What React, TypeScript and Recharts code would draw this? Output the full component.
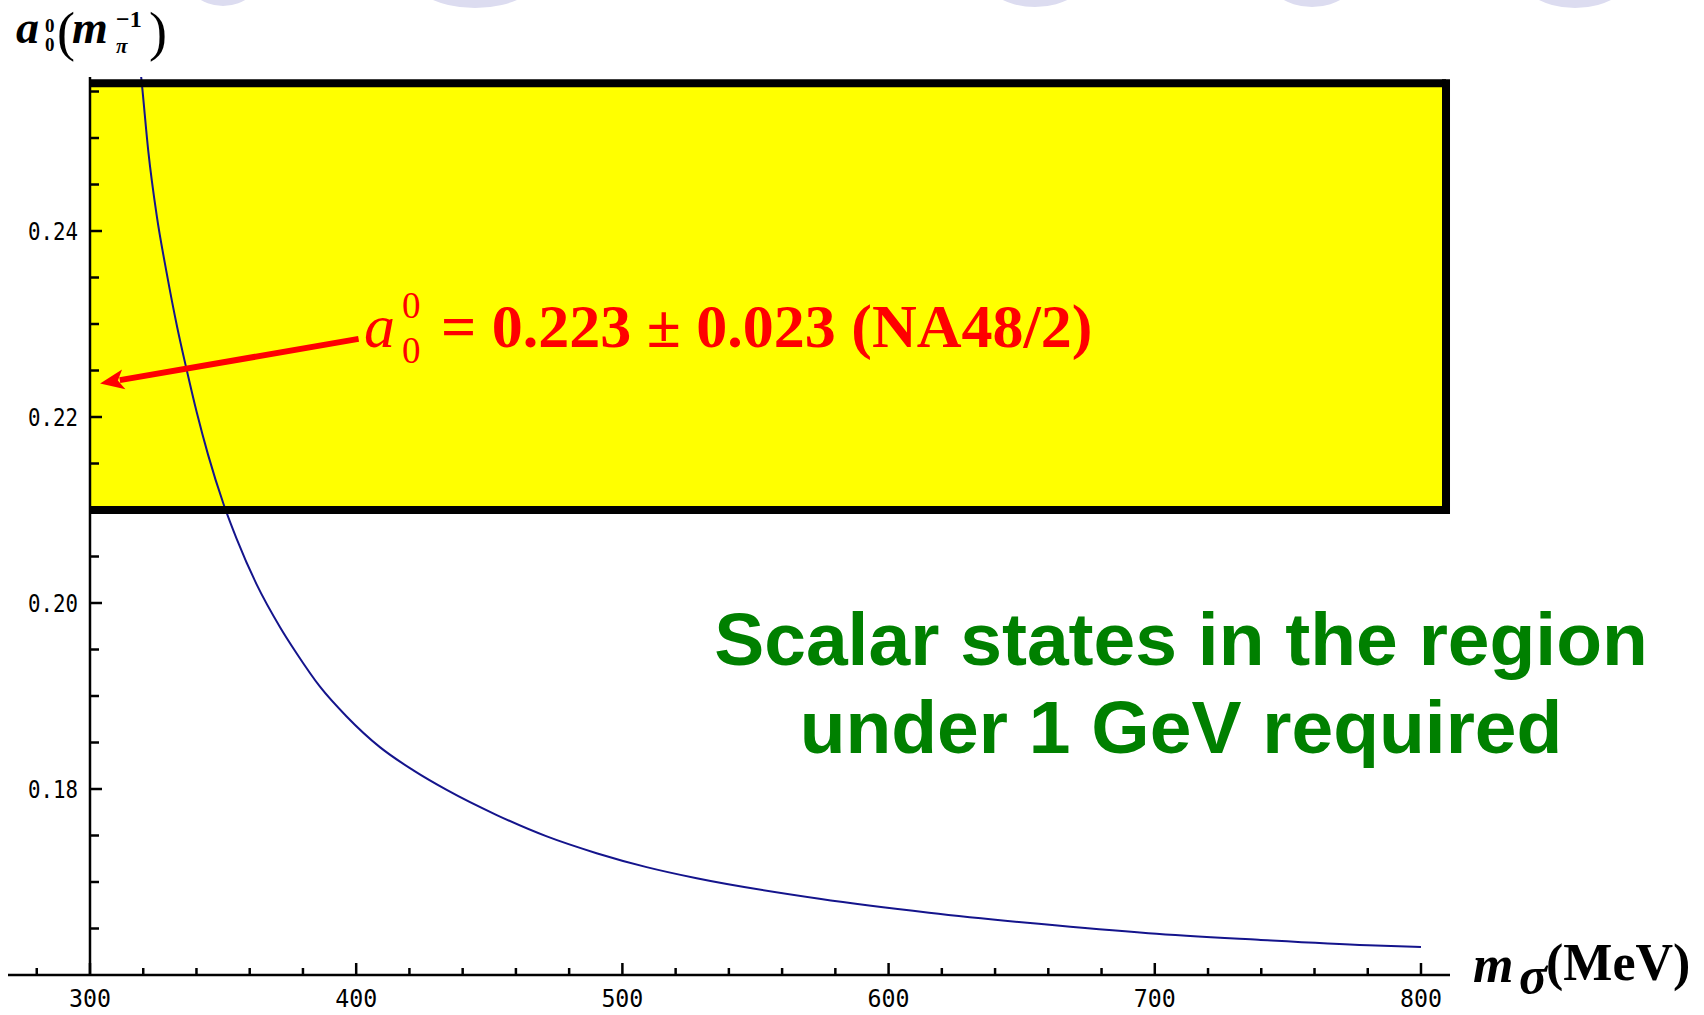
import { ComposedChart, Line, XAxis, YAxis, ReferenceArea, ReferenceLine, ReferenceDot } from 'recharts';

// m_sigma (MeV) and a_0^0 (m_pi^-1)
const sigmaMass = [
  318.9, 319.6, 321.9, 325.1, 328.8, 332.8, 336.3, 340.1, 344.4, 350.1, 355.1, 362.6, 371.4, 377.6, 386.4, 396.4,
  408.9, 421.5, 434.0, 452.8, 471.6, 490.3, 509.1, 527.9, 574.0, 615.2, 656.4, 697.6, 738.9, 780.1, 800.0,
];
const scatteringLength = [
  0.2575, 0.2555, 0.2486, 0.2416, 0.2355, 0.2296, 0.2251, 0.2205, 0.2159, 0.2107, 0.2069, 0.202, 0.1974, 0.1946,
  0.191, 0.1878, 0.1845, 0.182, 0.1799, 0.1772, 0.1749, 0.1731, 0.1716, 0.1704, 0.1682, 0.1667, 0.1655, 0.1645,
  0.1638, 0.1632, 0.163,
];

const xTicks = [280, 300, 320, 340, 360, 380, 400, 420, 440, 460, 480, 500, 520, 540, 560, 580, 600, 620, 640, 660, 680, 700, 720, 740, 760, 780, 800];
const xTickLabels = [300, 400, 500, 600, 700, 800];
const yMajorTicks = [0.18, 0.2, 0.22, 0.24];
const yMajorLabels = ['0.18', '0.20', '0.22', '0.24'];
const yMinorTicks = [0.165, 0.17, 0.175, 0.185, 0.19, 0.195, 0.205, 0.21, 0.215, 0.225, 0.23, 0.235, 0.245, 0.25, 0.255];

// NA48/2 band as drawn on the slide, and the arrow pointing at 0.223
const bandMass = [300, 809.4];
const bandValue = [0.21, 0.2559];
const arrowStart = { m: 400.9, a: 0.2284 };
const arrowEnd = { m: 303.8, a: 0.2236 };

const data = sigmaMass.map((m, i) => ({ m, a: scatteringLength[i] }));

const tickFont = '"DejaVu Sans Mono", monospace';
const serif = '"Liberation Serif", "Times New Roman", serif';

const XTick = ({ x, y, payload }: any) => {
  const major = xTickLabels.includes(payload.value);
  return (
    <g>
      <line x1={x} x2={x} y1={y} y2={y - (major ? 12 : 7)} stroke="#000" strokeWidth={2.5} />
      {major && (
        <text x={x} y={y + 32} textAnchor="middle" fontFamily={tickFont} fontSize={24} textLength={42} lengthAdjust="spacingAndGlyphs" fill="#000">
          {payload.value}
        </text>
      )}
    </g>
  );
};

const yTick = (label?: string) => (props: any) => {
  const { cx, cy } = props;
  return (
    <g>
      <line x1={cx} x2={cx + (label ? 12 : 9)} y1={cy} y2={cy} stroke="#000" strokeWidth={2.5} />
      {label && (
        <text x={cx - 12} y={cy} dy="0.36em" textAnchor="end" fontFamily={tickFont} fontSize={25} textLength={50} lengthAdjust="spacingAndGlyphs" fill="#000">
          {label}
        </text>
      )}
    </g>
  );
};

const Arrow = (props: any) => {
  const { x1, y1, x2, y2 } = props;
  const ang = Math.atan2(y2 - y1, x2 - x1);
  const c = Math.cos(ang);
  const s = Math.sin(ang);
  const bx = x2 - 24 * c;
  const by = y2 - 24 * s;
  return (
    <g>
      <line x1={x1} y1={y1} x2={bx + 4 * c} y2={by + 4 * s} stroke="#ff0000" strokeWidth={6} />
      <polygon points={`${x2},${y2} ${bx - 10 * s},${by + 10 * c} ${bx + 6 * c},${by + 6 * s} ${bx + 10 * s},${by - 10 * c}`} fill="#ff0000" />
    </g>
  );
};

export default function App() {
  return (
    <div style={{ position: 'relative', width: 1704, height: 1015 }}>
      <style>{'body { margin: 0; overflow: hidden; }'}</style>
      <ComposedChart width={1704} height={1015} data={data} margin={{ top: 77, right: 254, left: 8, bottom: 10 }}>
        <XAxis
          type="number"
          dataKey="m"
          domain={[269.2, 810.9]}
          allowDataOverflow
          ticks={xTicks}
          interval={0}
          tickLine={false}
          tickSize={0}
          tickMargin={0}
          tick={<XTick />}
          axisLine={{ stroke: '#000', strokeWidth: 2.5 }}
          height={30}
        />
        <YAxis type="number" domain={[0.16, 0.25656]} allowDataOverflow hide />
        <ReferenceArea x1={bandMass[0]} x2={bandMass[1]} y1={bandValue[0]} y2={bandValue[1]} fill="#ffff00" fillOpacity={1} stroke="none" />
        <Line type="monotone" dataKey="a" stroke="#14148c" strokeWidth={2} dot={false} isAnimationActive={false} />
        <ReferenceLine segment={[{ x: bandMass[0], y: bandValue[1] }, { x: bandMass[1], y: bandValue[1] }]} stroke="#000" strokeWidth={8} />
        <ReferenceLine segment={[{ x: bandMass[0], y: bandValue[0] }, { x: bandMass[1], y: bandValue[0] }]} stroke="#000" strokeWidth={8} />
        <ReferenceLine segment={[{ x: bandMass[1], y: bandValue[1] }, { x: bandMass[1], y: bandValue[0] }]} stroke="#000" strokeWidth={8} strokeLinecap="square" />
        <ReferenceLine x={300} stroke="#000" strokeWidth={2.5} />
        <ReferenceLine segment={[{ x: arrowStart.m, y: arrowStart.a }, { x: arrowEnd.m, y: arrowEnd.a }]} shape={Arrow} />
        {yMajorTicks.map((v, i) => (
          <ReferenceDot key={`maj-${v}`} x={300} y={v} r={1} shape={yTick(yMajorLabels[i])} />
        ))}
        {yMinorTicks.map((v) => (
          <ReferenceDot key={`min-${v}`} x={300} y={v} r={1} shape={yTick()} />
        ))}
      </ComposedChart>

      <svg width={1704} height={1015} style={{ position: 'absolute', left: 0, top: 0, pointerEvents: 'none' }}>
        {/* slide decoration at the top edge */}
        <g fill="#dcdcf0">
          <ellipse cx={223} cy={-30} rx={40} ry={36} />
          <ellipse cx={475} cy={-32} rx={70} ry={40} />
          <ellipse cx={1035} cy={-30} rx={55} ry={37} />
          <ellipse cx={1312} cy={-30} rx={48} ry={37} />
          <ellipse cx={1575} cy={-32} rx={60} ry={40} />
        </g>

        {/* y axis title */}
        <g fontFamily={serif} fill="#000">
          <text x={16} y={43} fontSize={46} fontWeight="bold" fontStyle="italic">a</text>
          <text x={45} y={32} fontSize={19} fontWeight="bold">0</text>
          <text x={45} y={51} fontSize={19} fontWeight="bold">0</text>
          <text x={57} y={50} fontSize={54}>(</text>
          <text x={72} y={43} fontSize={46} fontWeight="bold" fontStyle="italic">m</text>
          <text x={116} y={53} fontSize={21} fontWeight="bold" fontStyle="italic">π</text>
          <text x={116} y={27} fontSize={24} fontWeight="bold">−1</text>
          <text x={149} y={50} fontSize={54}>)</text>
        </g>

        {/* x axis title */}
        <g fontFamily={serif} fill="#000" fontWeight="bold">
          <text x={1473} y={982} fontSize={52} fontStyle="italic">m</text>
          <text x={1519} y={993} fontSize={52} fontStyle="italic">σ</text>
          <text x={1546} y={980} fontSize={52}>(MeV)</text>
        </g>

        {/* NA48/2 annotation */}
        <g fontFamily={serif} fill="#ff0000">
          <text x={364} y={347} fontSize={62} fontStyle="italic">a</text>
          <text x={402} y={318} fontSize={37}>0</text>
          <text x={402} y={363} fontSize={37}>0</text>
          <text x={441} y={347} fontSize={62} fontWeight="bold">= 0.223 ± 0.023 (NA48/2)</text>
        </g>

        <g fontFamily='"Liberation Sans", Arial, sans-serif' fontWeight="bold" fontSize={75} fill="#008000" textAnchor="middle">
          <text x={1181} y={665}>Scalar states in the region</text>
          <text x={1181} y={753}>under 1 GeV required</text>
        </g>
      </svg>
    </div>
  );
}
